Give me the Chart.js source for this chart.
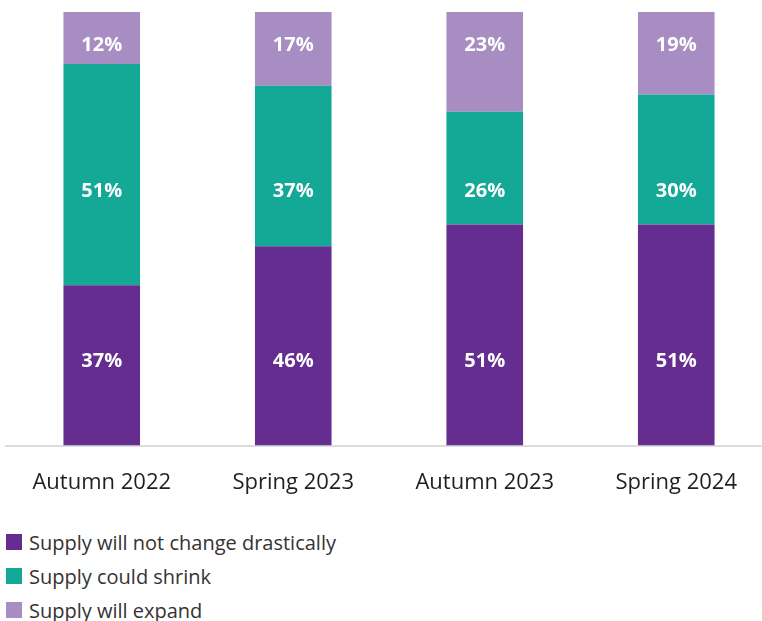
<!DOCTYPE html>
<html>
<head>
<meta charset="utf-8">
<script src="https://cdn.jsdelivr.net/npm/chart.js@4.4.1/dist/chart.umd.min.js"></script>
<style>
  html, body { margin: 0; padding: 0; background: #fff; overflow: hidden; width: 762px; height: 621px; }
  .chart-box { position: relative; width: 772px; height: 512px; }
  .legend { position: absolute; left: 6px; top: 525px; font-family: "Open Sans", sans-serif; font-size: 20px; color: #333; }
  .legend-item { display: flex; align-items: center; height: 34px; }
  .legend-swatch { width: 16px; height: 16px; margin-right: 7px; flex: none; }
</style>
</head>
<body>
<div class="chart-box"><canvas id="supplyChart"></canvas></div>
<div class="legend" id="legend"></div>
<script>
// survey waves
const periods = ['Autumn 2022', 'Spring 2023', 'Autumn 2023', 'Spring 2024'];

// share of respondents (%), bottom segment first
const noChange = [37, 46, 51, 51];
const couldShrink = [51, 37, 26, 30];
const willExpand = [12, 17, 23, 19];

const seriesNames = ['Supply will not change drastically', 'Supply could shrink', 'Supply will expand'];
const seriesColors = ['#652d90', '#14a896', '#a78dc2'];

// value labels sit on one row per series, at these heights on the 0-100 scale
const labelRows = [19.4, 58.7, 92.4];

const segmentLabels = {
  id: 'segmentLabels',
  afterDatasetsDraw(chart) {
    const ctx = chart.ctx;
    const y = chart.scales.y;
    ctx.save();
    ctx.fillStyle = '#fff';
    ctx.font = 'bold 20px "Open Sans", sans-serif';
    ctx.textAlign = 'center';
    ctx.textBaseline = 'middle';
    chart.data.datasets.forEach((ds, i) => {
      const py = y.getPixelForValue(labelRows[i]);
      chart.getDatasetMeta(i).data.forEach((bar, j) => {
        ctx.fillText(ds.data[j] + '%', bar.x, py);
      });
    });
    ctx.restore();
  }
};

const values = [noChange, couldShrink, willExpand];

new Chart(document.getElementById('supplyChart'), {
  type: 'bar',
  data: {
    labels: periods,
    datasets: values.map((v, i) => ({
      label: seriesNames[i],
      data: v,
      backgroundColor: seriesColors[i],
      borderWidth: 0,
      barPercentage: 0.4,
      categoryPercentage: 1
    }))
  },
  options: {
    responsive: true,
    maintainAspectRatio: false,
    animation: false,
    layout: { padding: { top: 12, left: 6, right: 0, bottom: 0 } },
    plugins: { legend: { display: false }, tooltip: { enabled: false } },
    scales: {
      x: {
        stacked: true,
        grid: { display: false },
        border: { color: '#dcdcdc', width: 2 },
        ticks: { color: '#231f20', padding: 16, font: { family: '"Open Sans", sans-serif', size: 22 } }
      },
      y: { stacked: true, display: false, min: 0, max: 100 }
    }
  },
  plugins: [segmentLabels]
});

// vertical legend under the chart
const legend = document.getElementById('legend');
seriesNames.forEach((name, i) => {
  const row = document.createElement('div');
  row.className = 'legend-item';
  row.innerHTML = `<span class="legend-swatch" style="background:${seriesColors[i]}"></span><span>${name}</span>`;
  legend.appendChild(row);
});
</script>
</body>
</html>
